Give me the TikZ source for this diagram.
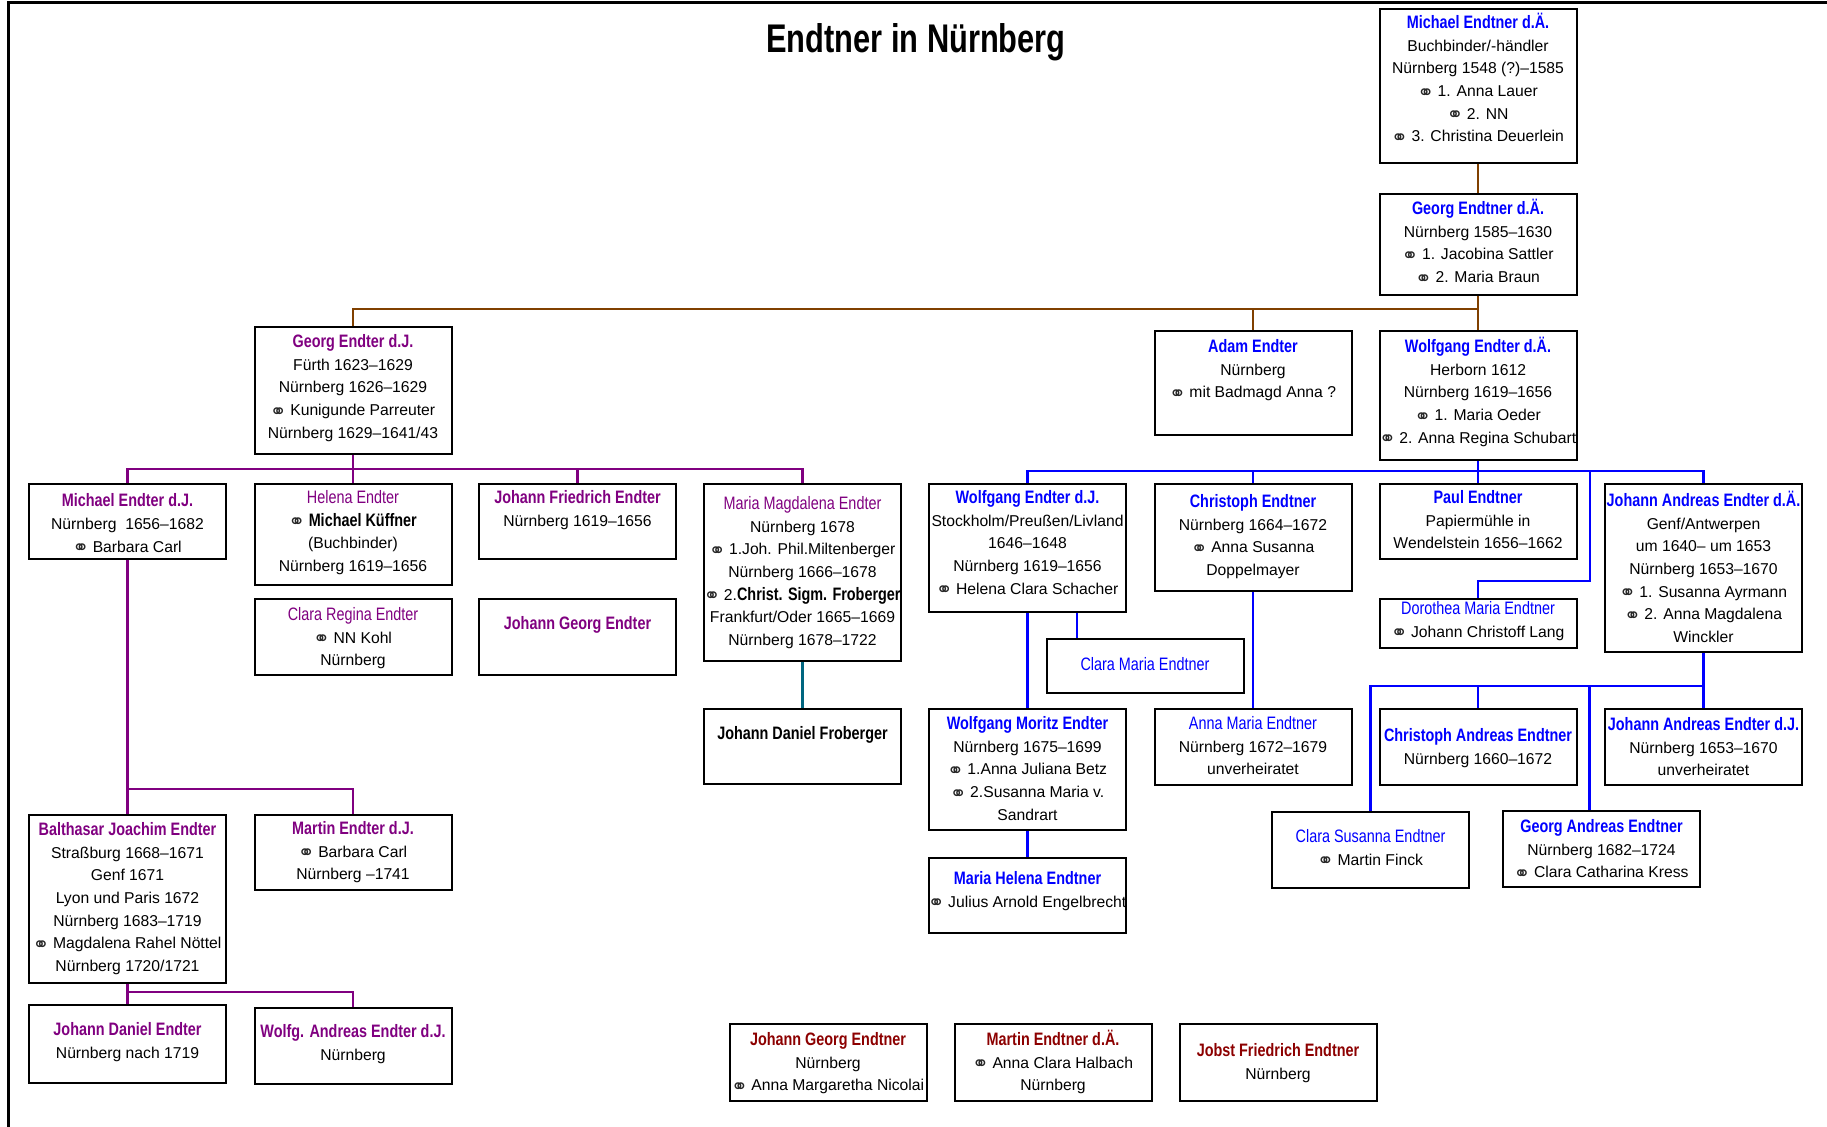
\documentclass[tikz,border=0pt]{standalone}
\usepackage{fontspec}
\setmainfont{Liberation Sans}
\newfontfamily\narrowfam[FakeStretch=0.8]{Liberation Sans}
\newfontfamily\titlefam[FakeStretch=0.77]{Liberation Sans}
\newfontfamily\symfam{DejaVu Sans}
\definecolor{nameblue}{RGB}{0,0,255}
\definecolor{namepurple}{RGB}{128,0,128}
\definecolor{namered}{RGB}{140,0,0}
\definecolor{linebrown}{RGB}{128,64,0}
\definecolor{lineteal}{RGB}{0,102,128}
\newcommand{\bodyfont}{\fontsize{7.85}{11.35}\selectfont}
\newcommand{\wed}{\kern-0.4pt\raisebox{-1.3pt}{\symfam\fontsize{10}{8}\selectfont\color{black!85}⚭}\kern-0.4pt}
\newcommand{\nameb}[2]{{\narrowfam\bfseries\fontsize{9}{11}\selectfont\color{#1}#2}}
\newcommand{\namer}[2]{{\narrowfam\fontsize{9}{11}\selectfont\color{#1}#2}}
\begin{document}
\begin{tikzpicture}[x=0.5pt, y=-0.5pt,
  person/.style={draw, line width=1pt, rectangle, anchor=north, align=center, minimum width=98.5pt, inner xsep=0pt, inner ysep=3pt, font=\bodyfont},
  tb/.style 2 args={text height=#1pt, text depth=#2pt},
  brownline/.style={draw=linebrown, line width=1.2pt},
  purpleline/.style={draw=namepurple, line width=1.2pt},
  blueline/.style={draw=nameblue, line width=1.2pt},
  tealline/.style={draw=lineteal, line width=1.2pt}]
\useasboundingbox (0,0) rectangle (1827,1127);
\draw[line width=1.5pt] (8,1127) -- (8,3) -- (1827,3);
\node[font=\titlefam\bfseries\fontsize{20}{24}\selectfont, anchor=base] (title) at (916,53) {Endtner in Nürnberg};

\node[person, tb={63.5}{7.5}] (michaelA) at (1478,8) {\nameb{nameblue}{Michael Endtner d.Ä.}\\Buchbinder/-händler\\Nürnberg 1548 (?)–1585\\\wed{} 1. Anna Lauer\\\wed{} 2. NN\\\wed{} 3. Christina Deuerlein};
\node[person, tb={41.3}{3.2}] (georgA) at (1478,193) {\nameb{nameblue}{Georg Endtner d.Ä.}\\Nürnberg 1585–1630\\\wed{} 1. Jacobina Sattler\\\wed{} 2. Maria Braun};
\draw[brownline] (michaelA) -- (georgA);
\coordinate (busA) at (1478,309);
\node[person, tb={52.65}{4.85}] (georgJ) at (353,326) {\nameb{namepurple}{Georg Endter d.J.}\\Fürth 1623–1629\\Nürnberg 1626–1629\\\wed{} Kunigunde Parreuter\\Nürnberg 1629–1641/43};
\node[person, tb={30.45}{15.55}] (adam) at (1253,330) {\nameb{nameblue}{Adam Endter}\\Nürnberg\\\wed{} mit Badmagd Anna ?};
\node[person, tb={53.15}{5.35}] (wolfA) at (1478,330) {\nameb{nameblue}{Wolfgang Endter d.Ä.}\\Herborn 1612\\Nürnberg 1619–1656\\\wed{} 1. Maria Oeder\\\wed{} 2. Anna Regina Schubart};
\draw[brownline] (georgA) -- (wolfA);
\draw[brownline] (busA) -| (georgJ.north);
\draw[brownline] (busA) -| (adam.north);

\coordinate (busB) at (353,469);
\node[person, tb={31.2}{0.3}] (michaelJ) at (127.5,483) {\nameb{namepurple}{Michael Endter d.J.}\\Nürnberg\ \ 1656–1682\\\wed{} Barbara Carl};
\node[person, tb={40.8}{3.7}] (helena) at (353,483) {\namer{namepurple}{Helena Endter}\\\wed{} \nameb{black}{Michael Küffner}\\(Buchbinder)\\Nürnberg 1619–1656};
\node[person, tb={18.1}{13.4}] (johannF) at (577.5,483) {\nameb{namepurple}{Johann Friedrich Endter}\\Nürnberg 1619–1656};
\node[person, tb={77.85}{4.65}] (mariaM) at (802.5,483) {\namer{namepurple}{Maria Magdalena Endter}\\Nürnberg 1678\\\wed{} 1.Joh. Phil.Miltenberger\\Nürnberg 1666–1678\\\wed{} 2.\nameb{black}{Christ. Sigm. Froberger}\\Frankfurt/Oder 1665–1669\\Nürnberg 1678–1722};
\node[person, tb={30.45}{1.55}] (claraR) at (353,598) {\namer{namepurple}{Clara Regina Endter}\\\wed{} NN Kohl\\Nürnberg};
\node[person, tb={12.25}{19.75}] (johannG) at (577.5,598) {\nameb{namepurple}{Johann Georg Endter}};
\draw[purpleline] (georgJ) -- (helena);
\draw[purpleline] (busB) -| (michaelJ.north);
\draw[purpleline] (busB) -| (johannF.north);
\draw[purpleline] (busB) -| (mariaM.north);

\coordinate (busD) at (1478,471);
\coordinate (dorKnee) at (1590,581);
\node[person, tb={52.15}{5.85}] (wolfJ) at (1027.5,483) {\nameb{nameblue}{Wolfgang Endter d.J.}\\Stockholm/Preußen/Livland\\1646–1648\\Nürnberg 1619–1656\\\wed{} Helena Clara Schacher};
\node[person, tb={42.8}{4.7}] (christoph) at (1253,483) {\nameb{nameblue}{Christoph Endtner}\\Nürnberg 1664–1672\\\wed{} Anna Susanna\\Doppelmayer};
\node[person, tb={29.45}{2.05}] (paul) at (1478,483) {\nameb{nameblue}{Paul Endtner}\\Papiermühle in\\Wendelstein 1656–1662};
\node[person, tb={76.35}{1.65}] (johannAA) at (1703.5,483) {\nameb{nameblue}{Johann Andreas Endter d.Ä.}\\Genf/Antwerpen\\um 1640– um 1653\\Nürnberg 1653–1670\\\wed{} 1. Susanna Ayrmann\\\wed{} 2. Anna Magdalena\\Winckler};
\node[person, tb={16.1}{2.4}] (dorothea) at (1478,598) {\namer{nameblue}{Dorothea Maria Endtner}\\\wed{} Johann Christoff Lang};
\draw[blueline] (wolfA) -- (paul);
\draw[blueline] (busD) -| (wolfJ.north);
\draw[blueline] (busD) -| (christoph.north);
\draw[blueline] (busD) -| (johannAA.north);
\draw[blueline] (busD) -| (dorKnee) -| (dorothea.north);

\node[person, tb={12.75}{8.25}] (claraM) at (1145,638) {\namer{nameblue}{Clara Maria Endtner}};
\node[person, tb={12.25}{19.25}] (froberger) at (802.5,708) {\nameb{black}{Johann Daniel Froberger}};
\node[person, tb={52.65}{1.85}] (wolfM) at (1027.5,708) {\nameb{nameblue}{Wolfgang Moritz Endter}\\Nürnberg 1675–1699\\\wed{} 1.Anna Juliana Betz\\\wed{} 2.Susanna Maria v.\\Sandrart};
\node[person, tb={29.95}{2.05}] (annaM) at (1253,708) {\namer{nameblue}{Anna Maria Endtner}\\Nürnberg 1672–1679\\unverheiratet};
\node[person, tb={21.6}{9.9}] (mariaH) at (1027.5,857) {\nameb{nameblue}{Maria Helena Endtner}\\\wed{} Julius Arnold Engelbrecht};
\draw[tealline] (mariaM) -- (froberger);
\draw[blueline] (wolfJ) -- (wolfM);
\draw[blueline] ([xshift=24.75pt]wolfJ.south) -- ([xshift=24.75pt]wolfJ.south |- claraM.north);
\draw[blueline] (wolfM) -- (mariaH);
\draw[blueline] (christoph) -- (annaM);

\coordinate (busE) at (1703.5,686);
\node[person, tb={24.6}{7.4}] (christophA) at (1478,708) {\nameb{nameblue}{Christoph Andreas Endtner}\\Nürnberg 1660–1672};
\node[person, tb={30.45}{1.55}] (johannAJ) at (1703.5,708) {\nameb{nameblue}{Johann Andreas Endter d.J.}\\Nürnberg 1653–1670\\unverheiratet};
\node[person, tb={23.6}{8.4}] (claraS) at (1370.5,811) {\namer{nameblue}{Clara Susanna Endtner}\\\wed{} Martin Finck};
\node[person, tb={30.45}{1.55}] (georgAn) at (1601.5,810) {\nameb{nameblue}{Georg Andreas Endtner}\\Nürnberg 1682–1724\\\wed{} Clara Catharina Kress};
\draw[blueline] (johannAA) -- (johannAJ);
\draw[blueline] (busE) -| (claraS.north);
\draw[blueline] (busE) -| (christophA.north);
\draw[blueline] (busE) -| ([xshift=-6pt]georgAn.north);

\coordinate (busC) at (127.5,789);
\coordinate (busF) at (127.5,992);
\node[person, tb={75.35}{2.65}] (balthasar) at (127.5,814) {\nameb{namepurple}{Balthasar Joachim Endter}\\Straßburg 1668–1671\\Genf 1671\\Lyon und Paris 1672\\Nürnberg 1683–1719\\\wed{} Magdalena Rahel Nöttel\\Nürnberg 1720/1721};
\node[person, tb={29.45}{2.05}] (martinJ) at (353,814) {\nameb{namepurple}{Martin Endter d.J.}\\\wed{} Barbara Carl\\Nürnberg –1741};
\node[person, tb={23.6}{9.4}] (johannD) at (127.5,1004) {\nameb{namepurple}{Johann Daniel Endter}\\Nürnberg nach 1719};
\node[person, tb={23.1}{8.9}] (wolfgAJ) at (353,1007) {\nameb{namepurple}{Wolfg. Andreas Endter d.J.}\\Nürnberg};
\draw[purpleline] (michaelJ) -- (balthasar);
\draw[purpleline] (busC) -| (martinJ.north);
\draw[purpleline] (balthasar) -- (johannD);
\draw[purpleline] (busF) -| (wolfgAJ.north);

\node[person, tb={30.45}{2.05}] (johannGE) at (828,1023) {\nameb{namered}{Johann Georg Endtner}\\Nürnberg\\\wed{} Anna Margaretha Nicolai};
\node[person, tb={30.45}{2.05}] (martinA) at (1053,1023) {\nameb{namered}{Martin Endtner d.Ä.}\\\wed{} Anna Clara Halbach\\Nürnberg};
\node[person, tb={24.6}{7.9}] (jobst) at (1278,1023) {\nameb{namered}{Jobst Friedrich Endtner}\\Nürnberg};
\end{tikzpicture}
\end{document}
